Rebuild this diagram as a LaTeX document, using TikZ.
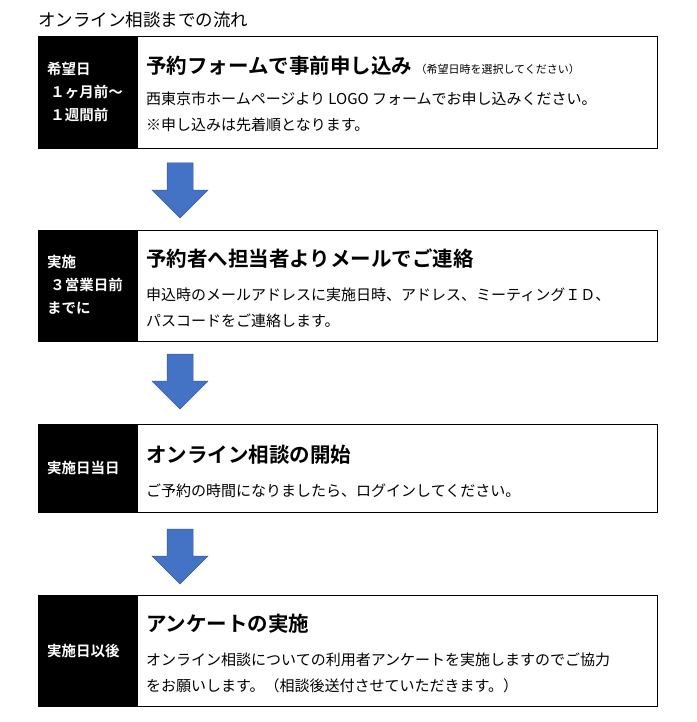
\documentclass[tikz,border=0pt]{standalone}
\usepackage{fontspec}
\setmainfont{Noto Sans CJK JP}[BoldFont={Noto Sans CJK JP Bold}]
\definecolor{arrowblue}{HTML}{4472C4}
\tikzset{
  frame/.style={draw=black,line width=0.8pt},
  lab/.style={fill=black,draw=black,line width=0.8pt},
  labtext/.style={text=white,font=\fontsize{14.5}{23}\selectfont\bfseries,align=left,anchor=west,inner sep=0pt},
  head/.style={font=\fontsize{20.5}{22}\selectfont\bfseries,anchor=west,inner sep=0pt},
  body/.style={font=\fontsize{15}{26}\selectfont,anchor=north west,align=left,inner sep=0pt},
  bluearrow/.style={fill=arrowblue,draw=arrowblue!80!black,line width=0.5pt}
}
\newcommand{\downarr}[2]{\draw[bluearrow] (#1-13,#2) -- (#1+13,#2) -- (#1+13,#2+27) -- (#1+28,#2+27) -- (#1,#2+55) -- (#1-28,#2+27) -- (#1-13,#2+27) -- cycle;}
\begin{document}
\begin{tikzpicture}[x=1pt,y=-1pt]
\useasboundingbox (0,0) rectangle (696,722);
\node[anchor=west,inner sep=0pt,font=\fontsize{17.5}{18}\selectfont] (title) at (38,20) {オンライン相談までの流れ};
% box 1
\draw[frame] (38,36) rectangle (657,148);
\fill[lab] (38,36) rectangle (137,148);
\node[labtext] (l1) at (47,92) {希望日\\\ １ヶ月前～\\\ １週間前};
\node[head] (h1) at (146,66) {予約フォームで事前申し込み\,{\fontsize{11}{12}\selectfont\mdseries（希望日時を選択してください）}};
\node[body] (b1) at (146,92) {西東京市ホームページより LOGO フォームでお申し込みください。\\※申し込みは先着順となります。};
\downarr{180}{163}
% box 2
\draw[frame] (38,230) rectangle (657,341);
\fill[lab] (38,230) rectangle (137,341);
\node[labtext] (l2) at (47,285) {実施\\\ ３営業日前\\までに};
\node[head] (h2) at (146,259) {予約者へ担当者よりメールでご連絡};
\node[body] (b2) at (146,288) {申込時のメールアドレスに実施日時、アドレス、ミーティングＩＤ、\\パスコードをご連絡します。};
\downarr{180}{354}
% box 3
\draw[frame] (38,424) rectangle (657,512);
\fill[lab] (38,424) rectangle (137,512);
\node[labtext] (l3) at (47,468) {実施日当日};
\node[head] (h3) at (146,455) {オンライン相談の開始};
\node[body] (b3) at (146,484) {ご予約の時間になりましたら、ログインしてください。};
\downarr{180}{529}
% box 4
\draw[frame] (38,595) rectangle (657,706);
\fill[lab] (38,595) rectangle (137,706);
\node[labtext] (l4) at (47,651) {実施日以後};
\node[head] (h4) at (146,624) {アンケートの実施};
\node[body] (b4) at (146,653) {オンライン相談についての利用者アンケートを実施しますのでご協力\\をお願いします。（相談後送付させていただきます。）};
\end{tikzpicture}
\end{document}
